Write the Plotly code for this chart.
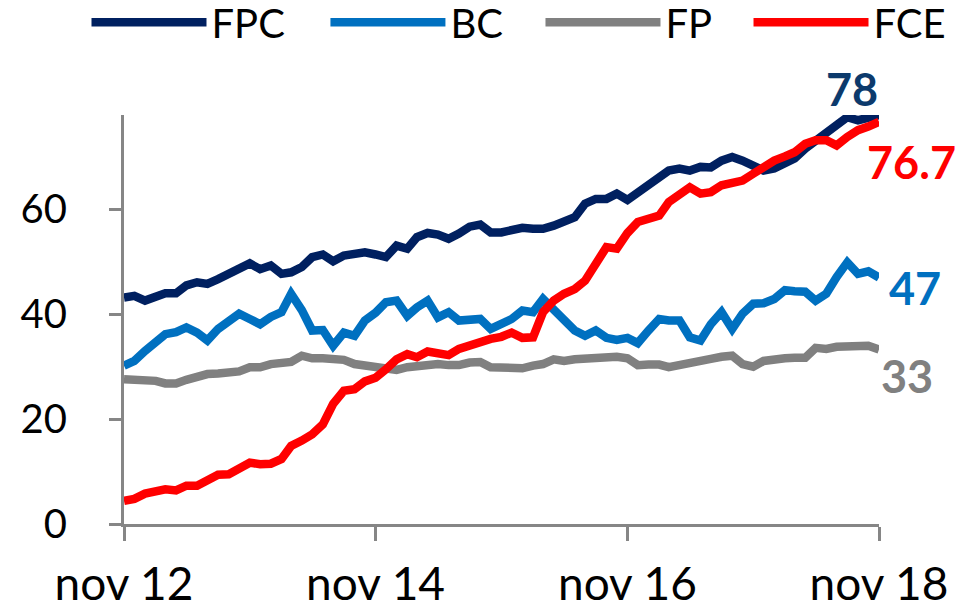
import pandas as pd
import plotly.graph_objects as go

# Monthly observations, Nov 2012 - Nov 2018
months = pd.date_range("2012-11-01", "2018-11-01", freq="MS")

fpc = [43.2, 43.5, 42.6, 43.4, 44.0, 44.0, 45.5, 46.1, 45.8, 46.7,
       47.8, 49.0, 49.7, 48.6, 49.3, 47.7, 48.0, 49.0, 50.9, 51.4,
       50.1, 51.2, 51.4, 51.8, 51.4, 50.9, 53.1, 52.5, 54.7, 55.5,
       55.2, 54.4, 55.4, 56.7, 57.1, 55.6, 55.6, 55.9, 56.5, 56.3,
       56.3, 56.9, 57.9, 58.5, 61.1, 62.0, 62.0, 63.0, 61.8, 63.2,
       64.6, 66.2, 67.4, 67.8, 67.4, 68.1, 68.0, 69.3, 70.0, 69.3,
       68.4, 67.4, 67.8, 68.7, 69.7, 71.6, 73.2, 74.4, 76.0, 77.6,
       77.0, 77.6, 78.0]

bc = [30.2, 31.1, 33.0, 34.6, 36.2, 36.6, 37.5, 36.5, 35.0, 37.2,
      38.5, 40.1, 39.1, 38.1, 39.5, 40.4, 43.9, 40.8, 36.9, 37.0,
      34.0, 36.5, 35.9, 38.8, 40.3, 42.3, 42.6, 39.7, 41.3, 42.6,
      39.4, 40.4, 38.8, 39.1, 39.1, 37.2, 38.1, 39.1, 40.7, 40.4,
      42.9, 40.7, 38.8, 36.9, 35.9, 36.9, 35.5, 35.1, 35.5, 34.5,
      36.9, 39.1, 38.8, 38.8, 35.6, 35.0, 38.1, 40.4, 37.2, 40.1,
      42.0, 42.1, 42.9, 44.6, 44.4, 44.3, 42.6, 43.9, 47.1, 49.9,
      47.7, 48.2, 47.0]

fp = [27.6, 27.6, 27.3, 27.3, 26.8, 26.8, 27.5, 28.1, 28.6, 28.7,
      28.9, 29.1, 29.9, 29.9, 30.5, 30.8, 30.9, 32.1, 31.6, 31.6,
      31.6, 31.3, 30.5, 30.2, 29.9, 29.4, 29.4, 29.9, 30.2, 30.5,
      30.5, 30.3, 30.3, 30.8, 30.9, 29.9, 29.7, 29.6, 29.7, 30.2,
      30.5, 31.4, 31.1, 31.4, 31.6, 31.8, 31.8, 31.9, 31.6, 30.3,
      30.4, 30.4, 29.9, 30.4, 30.8, 31.0, 31.5, 31.9, 32.1, 30.5,
      30.0, 31.1, 31.5, 31.6, 31.7, 31.7, 33.6, 33.4, 33.8, 34.0,
      34.0, 34.0, 33.3]

fce = [4.4, 4.8, 5.8, 6.2, 6.6, 6.4, 7.3, 7.3, 8.2, 9.4,
       9.5, 10.6, 11.7, 11.4, 11.5, 12.4, 14.9, 15.9, 17.1, 19.0,
       22.9, 25.4, 25.7, 27.2, 27.9, 29.5, 31.4, 32.4, 31.8, 32.9,
       32.7, 32.2, 33.4, 34.0, 35.0, 35.3, 35.7, 36.5, 35.5, 35.6,
       40.4, 42.6, 43.9, 44.8, 46.4, 49.6, 52.8, 52.5, 55.5, 57.6,
       58.2, 58.8, 61.4, 63.0, 64.2, 63.0, 63.3, 64.6, 65.2, 65.5,
       66.8, 68.2, 69.3, 70.1, 70.9, 72.5, 73.2, 73.2, 72.2, 73.8,
       75.1, 75.8, 76.7]

series_names = ["FPC", "BC", "FP", "FCE"]
series_values = [fpc, bc, fp, fce]
series_colors = ["#002060", "#0070C0", "#808080", "#FF0000"]
label_colors = ["#0c3a6c", "#0070C0", "#808080", "#FF0000"]
label_texts = ["78", "47", "33", "76.7"]

x_tickvals = ["2012-11-01", "2014-11-01", "2016-11-01", "2018-11-01"]
x_ticktext = ["nov 12", "nov 14", "nov 16", "nov 18"]
y_tickvals = [0, 20, 40, 60]

FONT = "Lato, 'Open Sans', sans-serif"
AXIS_GRAY = "#868686"

# one legend box per series so each entry sits where the reference has it
legend_ids = ["legend", "legend2", "legend3", "legend4"]
legend_x = [0.0901, 0.339, 0.563, 0.7797]

fig = go.Figure()
for name, vals, col, lid in zip(series_names, series_values, series_colors, legend_ids):
    fig.add_trace(go.Scatter(x=months, y=vals, name=name, mode="lines",
                             line=dict(color=col, width=8.5), legend=lid))

# end-of-line value labels (offsets in pixels)
offsets = {"FPC": ("right", 1, 26), "BC": ("left", 8, -10),
           "FP": ("left", 0, -27), "FCE": ("left", -14, -40)}
for name, vals, txt, col in zip(series_names, series_values, label_texts, label_colors):
    anchor, dx, dy = offsets[name]
    fig.add_annotation(x=months[-1], y=vals[-1], text=txt, showarrow=False,
                       xanchor=anchor, yanchor="middle", xshift=dx, yshift=dy,
                       font=dict(family=FONT, size=45, color=col, weight="bold"))

legend_style = dict(orientation="h", xanchor="left", xref="container",
                    y=1.306, yanchor="top", yref="paper",
                    font=dict(size=40, family=FONT, color="black"),
                    itemwidth=115, bgcolor="rgba(0,0,0,0)")

fig.update_layout(
    width=960, height=609,
    margin=dict(l=124, r=81, t=115, b=85, autoexpand=False),
    paper_bgcolor="white", plot_bgcolor="white",
    font=dict(family=FONT, color="black"),
    showlegend=True,
    xaxis=dict(type="date", range=[months[0], months[-1]],
               tickvals=x_tickvals, ticktext=x_ticktext,
               showgrid=False, zeroline=False, automargin=False,
               showline=True, linecolor=AXIS_GRAY, linewidth=3,
               ticks="outside", ticklen=14, tickwidth=3, tickcolor=AXIS_GRAY,
               tickfont=dict(size=46, family=FONT, color="black"),
               ticklabelstandoff=4),
    yaxis=dict(range=[0, 78], tickvals=y_tickvals,
               showgrid=False, zeroline=False, automargin=False,
               showline=True, linecolor=AXIS_GRAY, linewidth=3,
               ticks="outside", ticklen=12, tickwidth=3, tickcolor=AXIS_GRAY,
               tickfont=dict(size=40, family=FONT, color="black"),
               ticklabelstandoff=34),
)
for lid, lx in zip(legend_ids, legend_x):
    fig.update_layout({lid: dict(legend_style, x=lx)})

fig.write_html("out.html", config={"displayModeBar": False},
               post_script="document.body.style.margin='0';")
